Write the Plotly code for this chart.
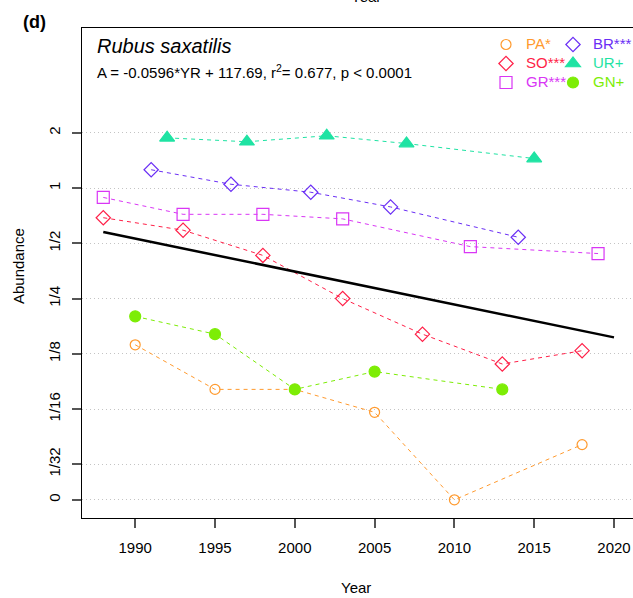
import math
import plotly.graph_objects as go

# ---- data: relative abundance per site and survey year ----
pa_years = [1990, 1995, 2000, 2005, 2010, 2018]
pa_abund = [0.14, 0.08, 0.08, 0.06, 0.0, 0.04]

so_years = [1988, 1993, 1998, 2003, 2008, 2013, 2018]
so_abund = [0.69, 0.59, 0.43, 0.25, 0.16, 0.11, 0.13]

gr_years = [1988, 1993, 1998, 2003, 2011, 2019]
gr_abund = [0.89, 0.72, 0.72, 0.68, 0.48, 0.44]

br_years = [1991, 1996, 2001, 2006, 2014]
br_abund = [1.26, 1.05, 0.95, 0.79, 0.54]

ur_years = [1992, 1997, 2002, 2007, 2015]
ur_abund = [1.88, 1.79, 1.93, 1.75, 1.45]

gn_years = [1990, 1995, 2000, 2005, 2013]
gn_abund = [0.20, 0.16, 0.08, 0.10, 0.08]

# fitted trend on the log2 scale
SLOPE = -0.0596
INTERCEPT = 117.69
R2 = 0.677
fit_years = [1988, 2020]

# y-axis ticks (abundance) and their labels
ytick_values = [2, 1, 1 / 2, 1 / 4, 1 / 8, 1 / 16, 1 / 32, 0]
ytick_labels = ["2", "1", "1/2", "1/4", "1/8", "1/16", "1/32", "0"]
xtick_values = [1990, 1995, 2000, 2005, 2010, 2015, 2020]

ZERO_FLOOR = 0.02  # zeros are drawn at this abundance on the log scale


def log2_abund(values):
    return [math.log2(v if v > 0 else ZERO_FLOOR) for v in values]


FONT = "Liberation Sans, Arial, sans-serif"
W, H = 633, 598
ML, MR, MT, MB = 82, 0, 28, 80


def px(xpix):
    return (xpix - ML) / (W - ML - MR)


def py(ypix):
    return (H - MB - ypix) / (H - MT - MB)


sites = [
    # name, years, abundance, colour, symbol, size, legend
    ("PA*", pa_years, pa_abund, "#ff9a2e", "circle-open", 10, "legend"),
    ("SO***", so_years, so_abund, "#ff1f47", "diamond-open", 11, "legend"),
    ("GR***", gr_years, gr_abund, "#d936f5", "square-open", 12, "legend"),
    ("BR***", br_years, br_abund, "#6a2ef5", "diamond-open", 11, "legend2"),
    ("UR+", ur_years, ur_abund, "#1fe3a3", "triangle-up", 13, "legend2"),
    ("GN+", gn_years, gn_abund, "#7ded06", "circle", 11, "legend2"),
]

fig = go.Figure()

for name, yrs, ab, col, sym, size, leg in sites:
    ys = log2_abund(ab)
    fig.add_trace(go.Scatter(
        x=yrs, y=ys, mode="lines",
        line=dict(color=col, width=1, dash="4px,4px"),
        showlegend=False, hoverinfo="skip",
    ))
    fig.add_trace(go.Scatter(
        x=yrs, y=ys, mode="markers",
        marker=dict(symbol=sym, size=size, color=col, line=dict(color=col, width=1.2)),
        name=f"<span style='color:{col};font-size:15px'>{name}</span>",
        legend=leg,
    ))

fig.add_trace(go.Scatter(
    x=fit_years, y=[SLOPE * yr + INTERCEPT for yr in fit_years],
    mode="lines", line=dict(color="black", width=2.5),
    showlegend=False, hoverinfo="skip",
))

equation = (f"A = {SLOPE}*YR + {INTERCEPT}, r<sup>2</sup>= {R2}, p &lt; 0.0001")

annotations = [
    dict(text="<b>(d)</b>", x=px(34), y=py(22), font=dict(size=18)),
    dict(text="<i>Rubus saxatilis</i>", x=px(95), y=py(46), xanchor="left", font=dict(size=20)),
    dict(text=equation, x=px(95), y=py(71), xanchor="left", font=dict(size=15)),
    dict(text="Year", x=px(356), y=py(587), font=dict(size=15)),
    dict(text="Year", x=px(366), y=py(-4), font=dict(size=15)),
    dict(text="Abundance", x=px(18), y=py(266), textangle=-90, font=dict(size=15)),
]
for a in annotations:
    a.update(xref="paper", yref="paper", showarrow=False)
    a.setdefault("xanchor", "center")
    a["yanchor"] = "middle"
    a["font"].update(family=FONT, color="black")

legend_style = dict(
    xanchor="left", yanchor="top", bgcolor="rgba(0,0,0,0)", borderwidth=0,
    font=dict(family=FONT, size=12.3), tracegroupgap=0, itemclick=False,
)

fig.update_layout(
    width=W, height=H,
    margin=dict(l=ML, r=MR, t=MT, b=MB, pad=0, autoexpand=False),
    paper_bgcolor="white", plot_bgcolor="white",
    font=dict(family=FONT, size=15, color="black"),
    annotations=annotations,
    legend=dict(x=px(486), y=py(30), **legend_style),
    legend2=dict(x=px(553), y=py(30), **legend_style),
    xaxis=dict(
        range=[1986.667, 2021.19], tickvals=xtick_values,
        ticks="outside", ticklen=9, tickwidth=1.5, tickcolor="#555",
        showline=True, linecolor="black", linewidth=1.2, mirror=True,
        showgrid=False, zeroline=False, ticklabelstandoff=7,
        tickfont=dict(size=15, color="black"),
    ),
    yaxis=dict(
        range=[-5.973, 2.90], tickvals=log2_abund(ytick_values), ticktext=ytick_labels,
        tickangle=-90,
        ticks="outside", ticklen=9, tickwidth=1.5, tickcolor="#555",
        showline=True, linecolor="black", linewidth=1.2, mirror=False,
        showgrid=True, gridcolor="#c4c4c4", gridwidth=1, griddash="1px,3px",
        zeroline=False, ticklabelstandoff=6,
        tickfont=dict(size=15, color="black"),
    ),
)

fig.write_html("out.html")
